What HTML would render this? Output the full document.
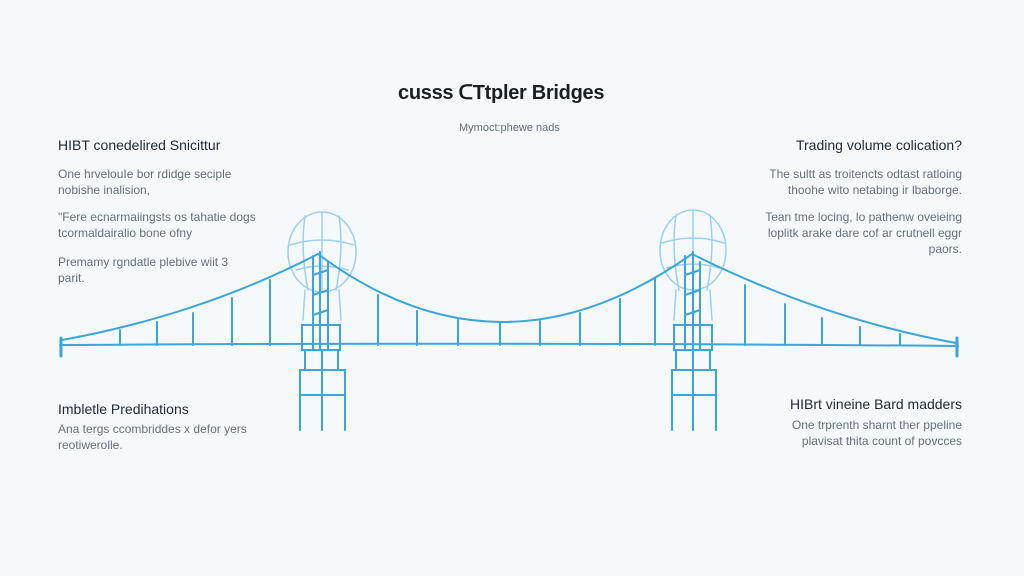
<!DOCTYPE html>
<html><head><style>
body{margin:0;width:1024px;height:576px;background:#f6f9fb;font-family:"Liberation Sans",sans-serif;position:relative;overflow:hidden}
.t{position:absolute;white-space:nowrap}
.h{font-size:14px;color:#1e2a33}
.p{font-size:12px;color:#66717a;line-height:16px}
.r{text-align:right}
</style></head><body>
<div class="t" style="left:398px;top:80px;font-size:20px;font-weight:bold;color:#1a1f24;letter-spacing:-0.3px">cusss ᑕTtpler Bridges</div>
<div class="t p" style="left:459px;top:120px;font-size:11px">Mymoct:phewe nads</div>

<div class="t h" style="left:58px;top:137px">HIBT conedelired Snicittur</div>
<div class="t p" style="left:58px;top:166px">One hrvelouIe bor rdidge seciple<br>nobishe inalision,</div>
<div class="t p" style="left:58px;top:209px">"Fere ecnarmaiingsts os tahatie dogs<br>tcormaldairalio bone ofny</div>
<div class="t p" style="left:58px;top:254px">Premamy rgndatle plebive wiit 3<br>parit.</div>

<div class="t h r" style="right:62px;top:137px">Trading volume colication?</div>
<div class="t p r" style="right:62px;top:166px">The sultt as troitencts odtast ratloing<br>thoohe wito netabing ir lbaborge.</div>
<div class="t p r" style="right:62px;top:209px">Tean tme locing, lo pathenw oveieing<br>loplitk arake dare cof ar crutnell eggr<br>paors.</div>

<div class="t h" style="left:58px;top:401px">Imbletle Predihations</div>
<div class="t p" style="left:58px;top:421px">Ana tergs ccombriddes x defor yers<br>reotiwerolle.</div>
<div class="t h r" style="right:62px;top:396px">HIBrt vineine Bard madders</div>
<div class="t p r" style="right:62px;top:417px">One trprenth sharnt ther ppeline<br>plavisat thita count of povcces</div>

<svg width="1024" height="576" style="position:absolute;left:0;top:0" fill="none" stroke-linecap="round">
<g stroke="#9cd0ee" stroke-width="1.5">
<ellipse cx="322" cy="252" rx="34" ry="40"/>
<path d="M290 245 Q322 235 354 245 M296 270 Q322 262 348 270 M322 212 L322 290 M305 216 Q300 250 308 290 M339 216 Q344 250 336 290 M305 290 L303 320 M339 290 L341 320"/>
<ellipse cx="693" cy="250" rx="33" ry="40"/>
<path d="M662 243 Q693 233 724 243 M667 268 Q693 260 719 268 M693 211 L693 290 M676 215 Q671 250 679 290 M710 215 Q715 250 707 290 M676 290 L674 320 M710 290 L712 320"/>
</g>
<g stroke="#3aa6dc" stroke-width="2">
<path d="M60 345 Q500 342 958 346"/>
<path d="M61 338 L61 356 M957 338 L957 356" stroke-width="3"/>
<path d="M62 340 Q200 315 318 254"/>
<path d="M318 254 Q500 390 692 254"/>
<path d="M692 254 Q820 318 956 343"/>
<path d="M120 330 V345 M157 322 V345 M193 313 V345 M232 298 V345 M270 280 V345
M378 295 V345 M417 311 V345 M458 320 V345 M500 323 V345 M540 321 V345 M580 313 V345 M620 299 V345 M655 279 V345
M745 285 V345 M785 304 V345 M822 318 V345 M860 327 V345 M900 334 V345"/>
<path d="M313 256 V350 M320 252 V350 M328 262 V350 M313 275 L328 270 M313 295 L328 290 M313 315 L328 310"/>
<path d="M302 325 H340 V350 H302 Z"/>
<path d="M305 350 H338 V370 H305 Z M300 370 H345 V395 H300 Z M300 395 V430 M345 395 V430 M322 350 V430"/>
<path d="M685 256 V350 M693 252 V350 M700 262 V350 M685 275 L700 270 M685 295 L700 290 M685 315 L700 310"/>
<path d="M674 325 H712 V350 H674 Z"/>
<path d="M676 350 H710 V370 H676 Z M672 370 H716 V395 H672 Z M672 395 V430 M716 395 V430 M693 350 V430"/>
</g>
</svg>
</body></html>
